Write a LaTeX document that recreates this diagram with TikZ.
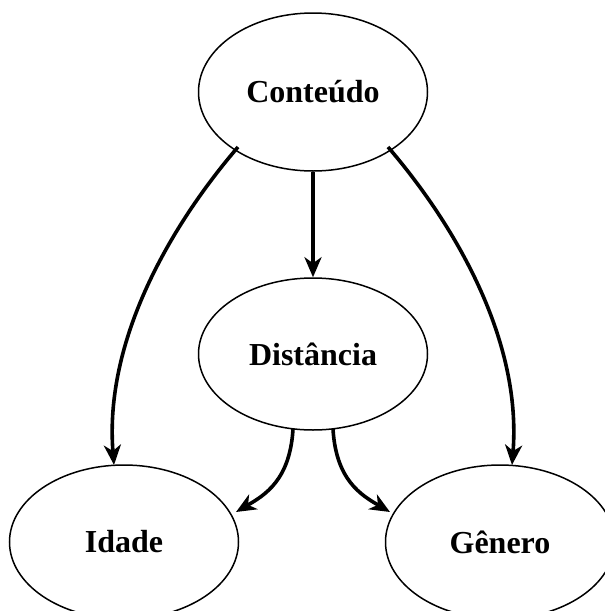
\documentclass[tikz,border=0pt]{standalone}
\usepackage{fontspec}
\setmainfont{Liberation Serif}
\usetikzlibrary{shapes.geometric,arrows.meta}

\tikzset{
  bubble/.style={ellipse, draw, line width=1.5pt, inner sep=0pt,
    minimum width=229pt, font=\fontsize{32}{37}\selectfont\bfseries},
  link/.style={line width=3.6pt,
    -{Stealth[length=20pt, width=17pt, inset=6pt]}}
}

\begin{document}
\begin{tikzpicture}[x=1pt, y=-1pt]
  \useasboundingbox (0,0) rectangle (605,611);
  \clip (0,0) rectangle (605,611);

  % variables
  \node[bubble, minimum height=158pt] (cont) at (313,92)  {Conteúdo};
  \node[bubble, minimum height=152pt] (dist) at (313,354) {Distância};
  \node[bubble, minimum height=154pt] (idade) at (124,542) {Idade};
  \node[bubble, minimum height=154pt] (gen)  at (500,542) {Gênero};

  % anchor points on the ellipses
  \coordinate (c1) at (238,147);
  \coordinate (c2) at (388,147);
  \coordinate (i1) at (114,465);
  \coordinate (g1) at (512,465);
  \coordinate (d1) at (293,429);
  \coordinate (d2) at (333,429);
  \coordinate (i2) at (236,512);
  \coordinate (g2) at (390,512);

  % influences
  \draw[link] (cont.south) -- (dist.north);
  \draw[link] (c1) .. controls (171,225) and (104,340) .. (i1);
  \draw[link] (c2) .. controls (455,225) and (522,340) .. (g1);
  \draw[link] (d1) .. controls (290,480) and (265,495) .. (i2);
  \draw[link] (d2) .. controls (336,480) and (361,495) .. (g2);
\end{tikzpicture}
\end{document}
